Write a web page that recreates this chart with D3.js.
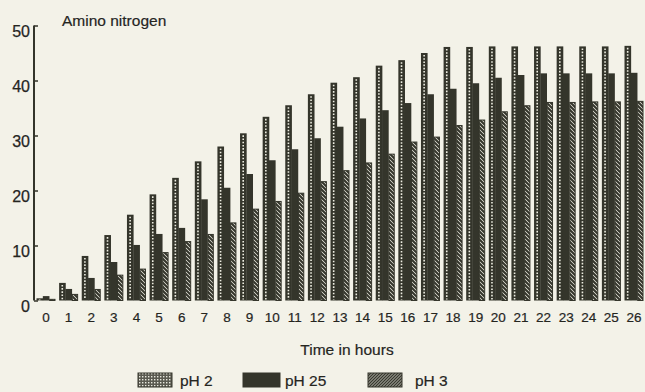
<!DOCTYPE html>
<html>
<head>
<meta charset="utf-8">
<script src="https://cdn.jsdelivr.net/npm/d3@7"></script>
<style>
  html, body { margin: 0; padding: 0; background: #f3f2e8; }
  svg { display: block; }
  text { font-family: "Liberation Sans", Arial, sans-serif; fill: #25251f; }
</style>
</head>
<body>
<svg id="chart" width="645" height="392"></svg>
<script>
const hours = d3.range(0, 27);
const hourLabels = hours.map(String);
const seriesNames = ["pH 2", "pH 25", "pH 3"];
const pH2  = [0.4, 3.2, 8.1, 11.9, 15.6, 19.3, 22.3, 25.3, 28.0, 30.4, 33.4, 35.5, 37.5, 39.6, 40.6, 42.7, 43.7, 45.0, 46.1, 46.1, 46.2, 46.2, 46.2, 46.2, 46.2, 46.2, 46.3];
const pH25 = [0.8, 2.1, 4.1, 7.0, 10.1, 12.1, 13.2, 18.4, 20.5, 23.0, 25.5, 27.5, 29.5, 31.6, 33.1, 34.6, 35.9, 37.5, 38.5, 39.5, 40.5, 41.0, 41.3, 41.3, 41.3, 41.3, 41.4];
const pH3  = [0.3, 1.2, 2.1, 4.7, 5.8, 8.8, 10.8, 12.1, 14.2, 16.7, 18.1, 19.6, 21.7, 23.7, 25.1, 26.7, 28.9, 29.8, 31.9, 32.9, 34.4, 35.5, 36.1, 36.1, 36.2, 36.2, 36.3];
const yTicks = [0, 10, 20, 30, 40, 50];

const DARK = "#34352b";
const svg = d3.select("#chart");
const defs = svg.append("defs");

// hatch "\" for bars
const hb = defs.append("pattern").attr("id", "hatchBar").attr("patternUnits", "userSpaceOnUse")
  .attr("width", 4).attr("height", 4);
hb.append("rect").attr("width", 4).attr("height", 4).attr("fill", "#f3f2e8");
hb.append("path").attr("d", "M-1,-1L5,5M-1,3L1,5M3,-1L5,1").attr("stroke", DARK).attr("stroke-width", 2.1);
// hatch "/" for legend
const hl = defs.append("pattern").attr("id", "hatchLeg").attr("patternUnits", "userSpaceOnUse")
  .attr("width", 3).attr("height", 3);
hl.append("rect").attr("width", 3).attr("height", 3).attr("fill", "#9a9a90");
hl.append("path").attr("d", "M-1,4L4,-1M-1,1L1,-1M2,4L4,2").attr("stroke", DARK).attr("stroke-width", 1.2);
// dotted check for pH2 legend
const dl = defs.append("pattern").attr("id", "dotLeg").attr("patternUnits", "userSpaceOnUse")
  .attr("width", 3).attr("height", 3);
dl.append("rect").attr("width", 3).attr("height", 3).attr("fill", "#5a5a50");
dl.append("rect").attr("x", 1).attr("y", 1).attr("width", 1.4).attr("height", 1.4).attr("fill", "#e8e8de");

const x = d3.scalePoint().domain(hours).range([46, 634]);
const sub = d3.scaleBand().domain(seriesNames).range([-9.5, 9.5]);
const y = d3.scaleLinear().domain([0, 50]).range([300.5, 25.5]);

// y axis
const yAxis = d3.axisRight(y).tickValues(yTicks).tickSize(4).tickFormat("");
const ya = svg.append("g").attr("transform", "translate(34,0)").call(yAxis);
ya.select(".domain").attr("stroke", DARK).attr("stroke-width", 2).attr("d", `M0,${y(50)}V${y(0)}`);
ya.selectAll(".tick line").attr("stroke", DARK).attr("stroke-width", 1.5);
svg.append("g").selectAll("text").data(yTicks).join("text")
  .attr("x", 30).attr("y", d => y(d) + 11).attr("text-anchor", "end")
  .attr("font-size", 16).attr("stroke", "#25251f").attr("stroke-width", 0.25).text(d => d);

// x labels
svg.append("g").selectAll("text").data(hours).join("text")
  .attr("x", d => x(d)).attr("y", 322).attr("text-anchor", "middle")
  .attr("font-size", 13.5).attr("stroke", "#25251f").attr("stroke-width", 0.2).text((d, i) => hourLabels[i]);

const bars = svg.append("g");
const base = y(0);
// pH 2 : dark with white dotted core
bars.selectAll("rect.p2").data(pH2).join("rect").attr("class", "p2")
  .attr("x", (d, i) => x(i) + sub("pH 2")).attr("width", sub.bandwidth() + 0.3)
  .attr("y", d => y(d)).attr("height", d => base - y(d)).attr("fill", DARK);
bars.selectAll("line.p2d").data(pH2).join("line").attr("class", "p2d")
  .attr("x1", (d, i) => x(i) + sub("pH 2") + sub.bandwidth() / 2)
  .attr("x2", (d, i) => x(i) + sub("pH 2") + sub.bandwidth() / 2)
  .attr("y1", d => Math.min(y(d) + 2, base)).attr("y2", base - 1)
  .attr("stroke", "#eeeee2").attr("stroke-width", 1.6).attr("stroke-dasharray", "1.6,1.6");
// pH 25 : solid
bars.selectAll("rect.p25").data(pH25).join("rect").attr("class", "p25")
  .attr("x", (d, i) => x(i) + sub("pH 25")).attr("width", sub.bandwidth() + 0.3)
  .attr("y", d => y(d)).attr("height", d => base - y(d)).attr("fill", DARK);
// pH 3 : hatched
bars.selectAll("rect.p3").data(pH3).join("rect").attr("class", "p3")
  .attr("x", (d, i) => x(i) + sub("pH 3") + 0.5).attr("width", sub.bandwidth() - 1)
  .attr("y", d => y(d) + 0.5).attr("height", d => Math.max(0, base - y(d) - 0.5))
  .attr("fill", "url(#hatchBar)").attr("stroke", DARK).attr("stroke-width", 1);

// titles
svg.append("text").attr("x", 62).attr("y", 26).attr("font-size", 15.5).attr("stroke", "#25251f").attr("stroke-width", 0.2).text("Amino nitrogen");
svg.append("text").attr("x", 347).attr("y", 355).attr("text-anchor", "middle").attr("font-size", 15.5).attr("stroke", "#25251f").attr("stroke-width", 0.2).text("Time in hours");

// legend
const legend = [
  { name: seriesNames[0], x: 138, w: 34, fill: "url(#dotLeg)", tx: 180 },
  { name: seriesNames[1], x: 243, w: 37, fill: DARK, tx: 285 },
  { name: seriesNames[2], x: 368, w: 34, fill: "url(#hatchLeg)", tx: 415 }
];
const lg = svg.append("g");
lg.selectAll("rect").data(legend).join("rect")
  .attr("x", d => d.x).attr("y", 373).attr("width", d => d.w).attr("height", 14)
  .attr("fill", d => d.fill).attr("stroke", DARK).attr("stroke-width", 1);
lg.selectAll("text").data(legend).join("text")
  .attr("x", d => d.tx).attr("y", 386).attr("font-size", 15.5).attr("stroke", "#25251f").attr("stroke-width", 0.2).text(d => d.name);
</script>
</body>
</html>
